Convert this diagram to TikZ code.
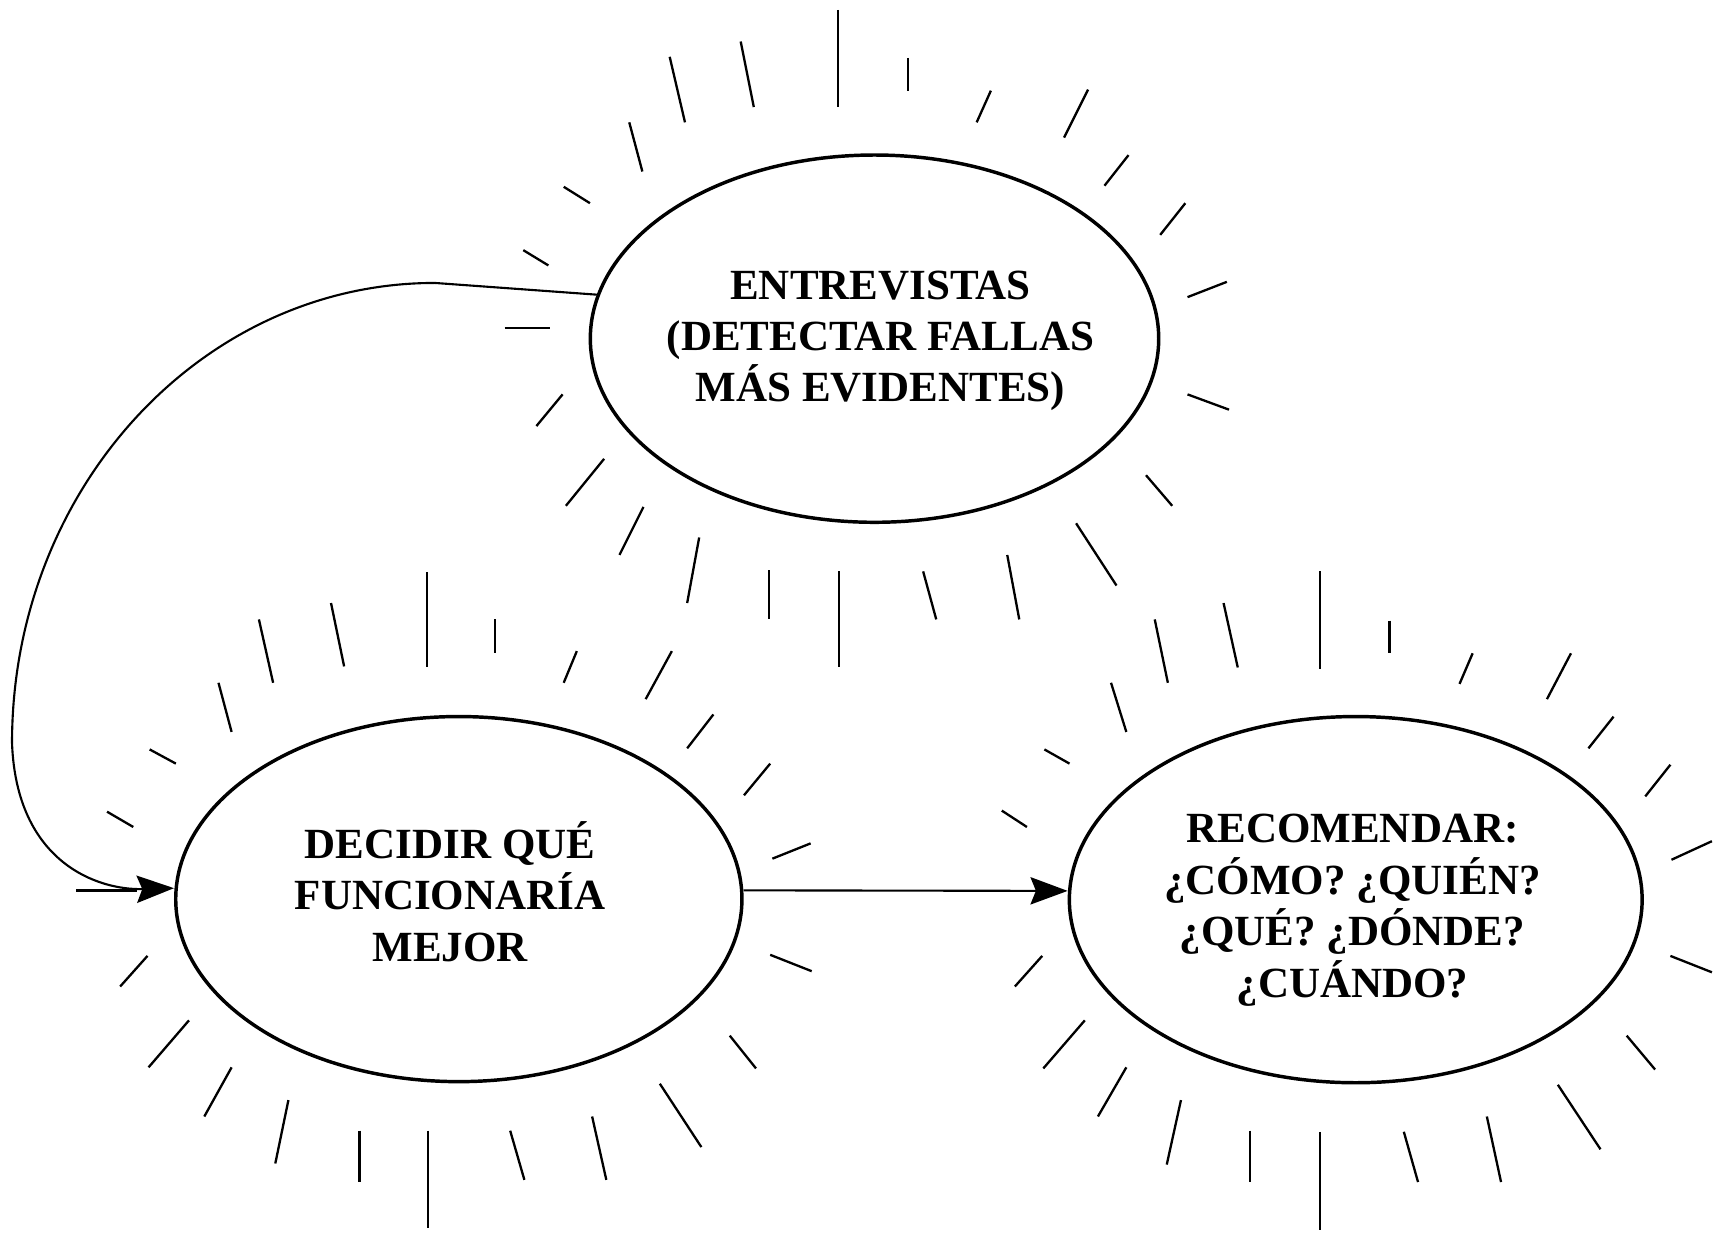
\documentclass[tikz,border=0pt]{standalone}
\usepackage{fontspec}
\setmainfont{Liberation Serif}
\usetikzlibrary{shapes.geometric,arrows.meta,calc}
\begin{document}
\begin{tikzpicture}[x=0.01cm,y=-0.01cm,
  bubble/.style={draw, ellipse, line width=0.9pt, inner sep=0pt},
  bubbletext/.style={align=center, inner sep=0pt, font=\fontsize{11.2pt}{13.4pt}\selectfont\bfseries},
  ray/.style={line width=0.6pt},
  conn/.style={line width=0.55pt, -{Stealth[length=0.34cm,width=0.25cm,inset=0.05cm]}}]
\fill[white] (0,0) rectangle (1568,1131);
\useasboundingbox (0,0) rectangle (1568,1131);

% ellipses
\node[bubble, minimum width=5.2cm, minimum height=3.36cm] (e1) at (800.5,310) {};
\node[bubble, minimum width=5.18cm, minimum height=3.34cm] (e2) at (420,823) {};
\node[bubble, minimum width=5.24cm, minimum height=3.35cm] (e3) at (1241,823.5) {};

% texts
\node[bubbletext] (t1) at (806,312) {ENTREVISTAS\\(DETECTAR FALLAS\\MÁS EVIDENTES)};
\node[bubbletext] (t2) at (412,816) {DECIDIR QUÉ\\FUNCIONARÍA\\MEJOR};
\node[bubbletext] (t3) at (1238,833) {RECOMENDAR:\\¿CÓMO? ¿QUIÉN?\\¿QUÉ? ¿DÓNDE?\\¿CUÁNDO?};

% rays around ellipse 1
\foreach \a/\b/\c/\d in {767/9/767/98, 831/53/831/83, 678/38/690/98, 613/52/627/112,
  576/112/588/157, 907/83/894/112, 996/82/974/126, 1033/142/1011/170, 1085/186/1062/215,
  1123/258/1087/272, 1087/361/1125/375, 1049/435/1073/463, 985/479/1022/536,
  922/508/933/567, 845/523/857/567, 768/523/768/611, 704/522/704/567, 640/492/629/552,
  589/464/567/508, 553/420/518/463, 515/361/491/390, 462/300/503/300, 479/229/502/243,
  516/171/540/186}
  \draw[ray] (\a,\b) -- (\c,\d);

% rays around ellipse 2
\foreach \a/\b/\c/\d in {391/524/391/611, 453/567/453/598, 303/552/315/610, 237/567/250/625,
  200/625/212/670, 137/686/161/699, 98/743/122/757, 70/815/125/815, 135/875/110/903,
  173/934/136/977, 212/977/187/1022, 264/1007/252/1065, 329/1035/329/1082,
  392/1035/392/1124, 467/1035/480/1080, 542/1022/555/1080, 604/992/642/1050,
  668/948/692/978, 705/874/743/889, 742/772/707/786, 705/699/681/728, 653/654/629/685,
  615/596/591/640, 528/596/516/625}
  \draw[ray] (\a,\b) -- (\c,\d);

% rays around ellipse 3
\foreach \a/\b/\c/\d in {1208/523/1208/612, 1272/568/1272/598, 1120/552/1133/611,
  1057/567/1069/625, 1017/625/1031/670, 956/686/979/699, 917/742/940/757,
  929/903/954/875, 955/978/993/934, 1005/1022/1031/977, 1068/1066/1081/1007,
  1144/1035/1144/1082, 1208/1036/1208/1126, 1285/1036/1298/1082, 1361/1022/1374/1082,
  1426/993/1465/1052, 1489/948/1515/979, 1529/875/1567/890, 1567/770/1530/787,
  1529/700/1506/729, 1477/656/1454/685, 1438/598/1416/640, 1348/598/1336/626}
  \draw[ray] (\a,\b) -- (\c,\d);

% connectors
\draw[conn] (e1.171) -- (398,259) .. controls (184,259) and (11,448) .. (11,680)
  .. controls (15,790) and (90,815) .. ($(e2.west)+(0,-10)$);
\draw[conn] ($(e2.east)+(0,-8)$) -- ($(e3.west)+(0,-8)$);
\end{tikzpicture}
\end{document}
